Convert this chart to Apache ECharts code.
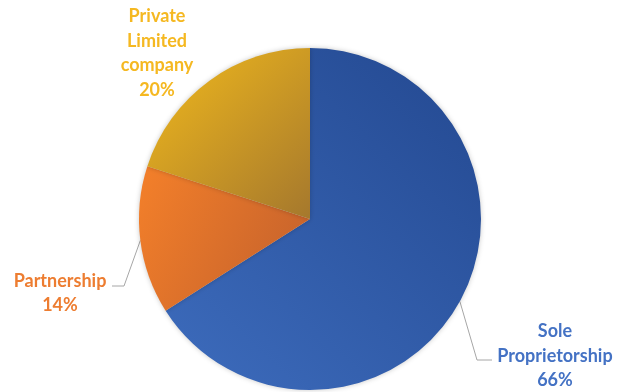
<!DOCTYPE html>
<html>
<head>
<meta charset="utf-8">
<script src="https://cdn.jsdelivr.net/npm/echarts@6/dist/echarts.min.js"></script>
<style>
  html, body { margin: 0; padding: 0; background: #ffffff; }
  #chart { width: 617px; height: 392px; }
</style>
</head>
<body>
<div id="chart"></div>
<script>
// Business ownership types, share in percent
const categories = ['Sole\nProprietorship', 'Partnership', 'Private\nLimited\ncompany'];
const shares = [66, 14, 20];

// Slice gradients and label colours
const fills = [
  { x: 1, y: 0, x2: 0, y2: 1, from: '#234890', to: '#3d6cbd' },
  { x: 0, y: 0.2, x2: 1, y2: 0.8, from: '#f17e2a', to: '#c4612c' },
  { x: 0, y: 0, x2: 1, y2: 1, from: '#f2ba1c', to: '#a5782d' }
];
const textColors = ['#4472c4', '#ed7d31', '#f5b821'];

// Label anchor (centre of text block) and leader elbow for each slice
const labelSpots = [
  { x: 555, y: 356, elbow: [[477, 360], [492, 360]] },
  { x: 60, y: 293, elbow: [[124, 286], [112, 286]] },
  { x: 157, y: 53, elbow: null }
];

const chart = echarts.init(document.getElementById('chart'), null, { renderer: 'canvas' });

const data = categories.map((name, i) => {
  const f = fills[i];
  return {
    name: name,
    value: shares[i],
    itemStyle: {
      color: new echarts.graphic.LinearGradient(f.x, f.y, f.x2, f.y2, [
        { offset: 0, color: f.from },
        { offset: 1, color: f.to }
      ])
    },
    label: { color: textColors[i] },
    labelLine: { show: labelSpots[i].elbow !== null }
  };
});

chart.setOption({
  animation: false,
  series: [{
    type: 'pie',
    center: [310, 219],
    radius: 171,
    startAngle: 90,
    clockwise: true,
    data: data,
    itemStyle: {
      borderWidth: 0,
      shadowBlur: 5,
      shadowColor: 'rgba(0,0,0,0.22)'
    },
    label: {
      show: true,
      formatter: '{b}\n{c}%',
      fontFamily: 'Lato',
      fontWeight: 'bold',
      fontSize: 18,
      lineHeight: 24.5,
      align: 'center',
      overflow: 'none',
      width: 200
    },
    labelLine: {
      show: true,
      lineStyle: { color: '#a6a6a6', width: 1 }
    },
    labelLayout: function (params) {
      const spot = labelSpots[params.dataIndex];
      const out = { x: spot.x, y: spot.y, align: 'center', verticalAlign: 'middle' };
      if (spot.elbow && params.labelLinePoints) {
        out.labelLinePoints = [params.labelLinePoints[0], spot.elbow[0], spot.elbow[1]];
      }
      return out;
    }
  }]
});
</script>
</body>
</html>
